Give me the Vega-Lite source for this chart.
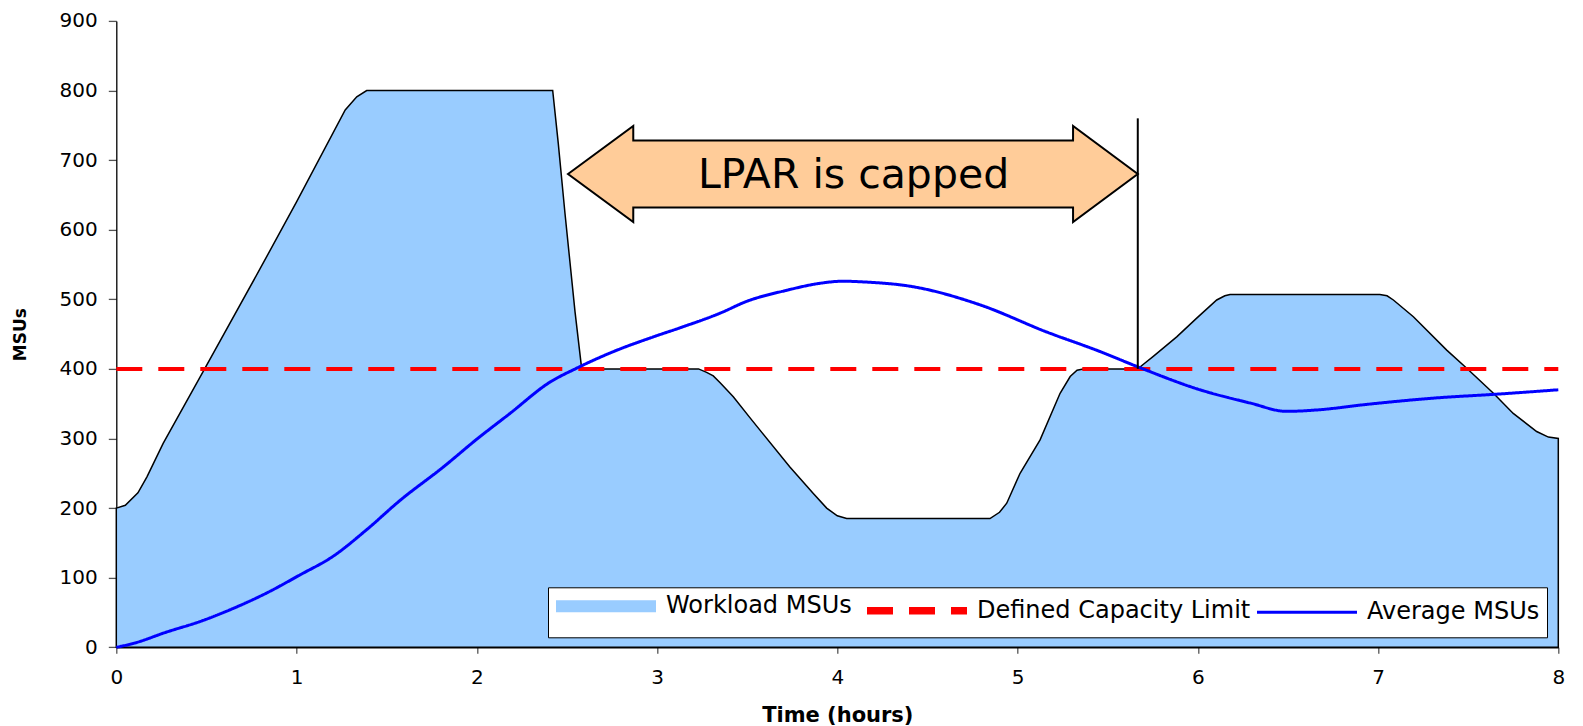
{
  "$schema": "https://vega.github.io/schema/vega-lite/v6.json",
  "width": 1442,
  "height": 626.4,
  "autosize": "none",
  "padding": {"left": 116.3, "top": 20.9, "right": 24.7, "bottom": 78.7},
  "background": "white",
  "config": {
    "view": {"stroke": null},
    "font": "DejaVu Sans",
    "axis": {
      "grid": false,
      "domainColor": "black",
      "domainWidth": 1.3,
      "tickColor": "#555555",
      "tickWidth": 1.3,
      "labelColor": "black",
      "labelFont": "DejaVu Sans",
      "labelFontSize": 20,
      "titleFont": "DejaVu Sans",
      "titleColor": "black",
      "titleFontWeight": "bold"
    },
    "legend": {
      "orient": "none", "legendX": 431.7, "legendY": 566.4, "direction": "horizontal",
      "fillColor": "white", "strokeColor": "black", "padding": 7,
      "labelFont": "DejaVu Sans", "labelFontSize": 24, "labelColor": "black", "labelLimit": 500,
      "labelOffset": 87, "columnPadding": 0, "symbolSize": 100, "symbolType": "M-2.2,0H17.8",
      "symbolFillColor": "transparent"
    }
  },
  "datasets": {
    "workload": [
      {"t": 0, "msu": 200},
      {"t": 0.05, "msu": 204},
      {"t": 0.12, "msu": 222},
      {"t": 0.17, "msu": 245},
      {"t": 0.26, "msu": 293},
      {"t": 0.49, "msu": 400},
      {"t": 0.8, "msu": 545},
      {"t": 1.0, "msu": 640},
      {"t": 1.27, "msu": 772},
      {"t": 1.334, "msu": 791},
      {"t": 1.389, "msu": 800},
      {"t": 2.421, "msu": 800},
      {"t": 2.452, "msu": 724},
      {"t": 2.489, "msu": 624},
      {"t": 2.545, "msu": 482},
      {"t": 2.582, "msu": 400},
      {"t": 3.23, "msu": 400},
      {"t": 3.275, "msu": 395},
      {"t": 3.312, "msu": 390},
      {"t": 3.35, "msu": 380},
      {"t": 3.423, "msu": 360},
      {"t": 3.515, "msu": 330},
      {"t": 3.571, "msu": 312},
      {"t": 3.737, "msu": 259},
      {"t": 3.867, "msu": 221},
      {"t": 3.941, "msu": 200},
      {"t": 4.0, "msu": 189},
      {"t": 4.052, "msu": 185},
      {"t": 4.847, "msu": 185},
      {"t": 4.9, "msu": 194},
      {"t": 4.94, "msu": 207},
      {"t": 5.014, "msu": 250},
      {"t": 5.125, "msu": 298},
      {"t": 5.236, "msu": 365},
      {"t": 5.292, "msu": 389},
      {"t": 5.33, "msu": 398},
      {"t": 5.365, "msu": 400},
      {"t": 5.667, "msu": 400},
      {"t": 5.7, "msu": 407},
      {"t": 5.753, "msu": 418},
      {"t": 5.883, "msu": 446},
      {"t": 5.994, "msu": 473},
      {"t": 6.105, "msu": 499},
      {"t": 6.15, "msu": 505},
      {"t": 6.179, "msu": 507},
      {"t": 7.01, "msu": 507},
      {"t": 7.05, "msu": 505},
      {"t": 7.085, "msu": 499},
      {"t": 7.196, "msu": 475},
      {"t": 7.381, "msu": 427},
      {"t": 7.492, "msu": 401},
      {"t": 7.64, "msu": 365},
      {"t": 7.75, "msu": 336},
      {"t": 7.88, "msu": 310},
      {"t": 7.945, "msu": 302},
      {"t": 8.0, "msu": 300}
    ],
    "limit": [
      {"t": 0, "msu": 400, "series": "Defined Capacity Limit"},
      {"t": 8, "msu": 400, "series": "Defined Capacity Limit"}
    ],
    "avg": [
      {"t": 0, "msu": 0, "series": "Average MSUs"},
      {"t": 0.1, "msu": 6, "series": "Average MSUs"},
      {"t": 0.28, "msu": 22, "series": "Average MSUs"},
      {"t": 0.464, "msu": 37, "series": "Average MSUs"},
      {"t": 0.65, "msu": 56, "series": "Average MSUs"},
      {"t": 0.834, "msu": 78, "series": "Average MSUs"},
      {"t": 1.019, "msu": 104, "series": "Average MSUs"},
      {"t": 1.204, "msu": 131, "series": "Average MSUs"},
      {"t": 1.389, "msu": 169, "series": "Average MSUs"},
      {"t": 1.574, "msu": 211, "series": "Average MSUs"},
      {"t": 1.814, "msu": 259, "series": "Average MSUs"},
      {"t": 2.0, "msu": 299, "series": "Average MSUs"},
      {"t": 2.184, "msu": 336, "series": "Average MSUs"},
      {"t": 2.406, "msu": 381, "series": "Average MSUs"},
      {"t": 2.554, "msu": 401, "series": "Average MSUs"},
      {"t": 2.75, "msu": 424, "series": "Average MSUs"},
      {"t": 2.979, "msu": 446, "series": "Average MSUs"},
      {"t": 3.127, "msu": 459, "series": "Average MSUs"},
      {"t": 3.349, "msu": 480, "series": "Average MSUs"},
      {"t": 3.497, "msu": 497, "series": "Average MSUs"},
      {"t": 3.72, "msu": 513, "series": "Average MSUs"},
      {"t": 3.904, "msu": 523, "series": "Average MSUs"},
      {"t": 4.03, "msu": 526, "series": "Average MSUs"},
      {"t": 4.144, "msu": 525, "series": "Average MSUs"},
      {"t": 4.422, "msu": 518, "series": "Average MSUs"},
      {"t": 4.792, "msu": 492, "series": "Average MSUs"},
      {"t": 5.162, "msu": 453, "series": "Average MSUs"},
      {"t": 5.457, "msu": 425, "series": "Average MSUs"},
      {"t": 5.667, "msu": 403, "series": "Average MSUs"},
      {"t": 6.012, "msu": 370, "series": "Average MSUs"},
      {"t": 6.29, "msu": 351, "series": "Average MSUs"},
      {"t": 6.493, "msu": 339, "series": "Average MSUs"},
      {"t": 6.66, "msu": 341, "series": "Average MSUs"},
      {"t": 6.937, "msu": 349, "series": "Average MSUs"},
      {"t": 7.307, "msu": 358, "series": "Average MSUs"},
      {"t": 7.677, "msu": 364, "series": "Average MSUs"},
      {"t": 8.0, "msu": 370, "series": "Average MSUs"}
    ],
    "arrow": [
      {"t": 2.506, "top": 680, "bottom": 680},
      {"t": 2.868, "top": 749, "bottom": 611},
      {"t": 2.8681, "top": 728, "bottom": 632},
      {"t": 5.3079, "top": 728, "bottom": 632},
      {"t": 5.308, "top": 749, "bottom": 611},
      {"t": 5.667, "top": 680, "bottom": 680}
    ],
    "cap": [{"t": 5.667, "lo": 400, "hi": 760}],
    "label": [{"t": 4.09, "msu": 660, "text": "LPAR is capped"}]
  },
  "layer": [
    {
      "data": {"name": "workload"},
      "mark": {"type": "area", "fill": "#99CCFF", "stroke": "black", "strokeWidth": 1.5, "opacity": 1},
      "encoding": {
        "x": {"field": "t", "type": "quantitative",
          "scale": {"domain": [0, 8], "nice": false, "zero": false},
          "axis": {"values": [0, 1, 2, 3, 4, 5, 6, 7, 8], "format": "d", "title": "Time (hours)", "tickSize": 6, "labelPadding": 14, "titleFontSize": 21, "titlePadding": 17, "labelFlush": false}},
        "y": {"field": "msu", "type": "quantitative",
          "scale": {"domain": [0, 900], "nice": false},
          "axis": {"values": [0, 100, 200, 300, 400, 500, 600, 700, 800, 900], "format": "d", "title": "MSUs", "tickSize": 8, "labelPadding": 11, "titleFontSize": 17, "titlePadding": 30}}
      }
    },
    {
      "data": {"name": "limit"},
      "mark": {"type": "line", "strokeWidth": 4},
      "encoding": {
        "x": {"field": "t", "type": "quantitative"},
        "y": {"field": "msu", "type": "quantitative"},
        "stroke": {"field": "series", "type": "nominal",
          "scale": {"domain": ["Workload MSUs", "Defined Capacity Limit", "Average MSUs"], "range": ["#99CCFF", "#FF0000", "#0000FF"]},
          "legend": {"title": null}},
        "strokeDash": {"field": "series", "type": "nominal",
          "scale": {"domain": ["Workload MSUs", "Defined Capacity Limit", "Average MSUs"], "range": [[1, 0], [26, 16], [1, 0]]},
          "legend": {"title": null}}
      }
    },
    {
      "data": {"name": "avg"},
      "mark": {"type": "line", "interpolate": "monotone"},
      "encoding": {
        "x": {"field": "t", "type": "quantitative"},
        "y": {"field": "msu", "type": "quantitative"},
        "stroke": {"field": "series", "type": "nominal"},
        "strokeDash": {"field": "series", "type": "nominal"},
        "strokeWidth": {"field": "series", "type": "nominal",
          "scale": {"domain": ["Workload MSUs", "Defined Capacity Limit", "Average MSUs"], "range": [12, 3]},
          "legend": {"title": null}}
      }
    },
    {
      "data": {"name": "cap"},
      "mark": {"type": "rule", "color": "black", "strokeWidth": 2},
      "encoding": {
        "x": {"field": "t", "type": "quantitative"},
        "y": {"field": "lo", "type": "quantitative"},
        "y2": {"field": "hi"}
      }
    },
    {
      "data": {"name": "arrow"},
      "mark": {"type": "area", "fill": "#FFCC99", "stroke": "black", "strokeWidth": 2, "opacity": 1, "orient": "vertical"},
      "encoding": {
        "x": {"field": "t", "type": "quantitative"},
        "y": {"field": "top", "type": "quantitative"},
        "y2": {"field": "bottom"}
      }
    },
    {
      "data": {"name": "label"},
      "mark": {"type": "text", "font": "DejaVu Sans", "fontSize": 41, "align": "center", "baseline": "alphabetic", "color": "black"},
      "encoding": {
        "x": {"field": "t", "type": "quantitative"},
        "y": {"field": "msu", "type": "quantitative"},
        "text": {"field": "text"}
      }
    }
  ]
}
